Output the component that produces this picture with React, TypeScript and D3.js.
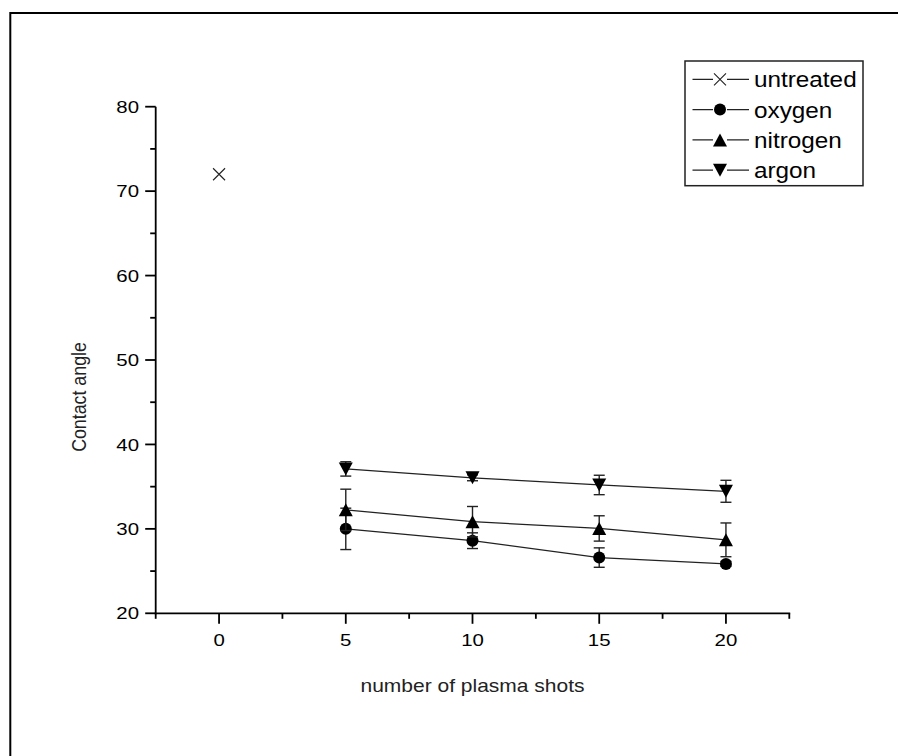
import React from "react";
import * as d3 from "d3";

const xTicks = [0, 5, 10, 15, 20];
const yTicks = [20, 30, 40, 50, 60, 70, 80];
const shots = [5, 10, 15, 20];
const untreatedX = [0];
const untreatedY = [72];
const oxygenY = [30.0, 28.6, 26.6, 25.85];
const oxygenErr = [2.45, 0.93, 1.15, 0.3];
const nitrogenY = [32.25, 30.85, 30.05, 28.7];
const nitrogenErr = [2.45, 1.8, 1.5, 2.0];
const argonY = [37.1, 36.05, 35.2, 34.45];
const argonErr = [0.85, 0.35, 1.15, 1.3];
const legendLabels = ["untreated", "oxygen", "nitrogen", "argon"];

const FONT = "'Liberation Sans', Arial, sans-serif";
const SX = 1.18;

const x = d3.scaleLinear().domain([-2.5, 22.5]).range([155.7, 789.3]);
const y = d3.scaleLinear().domain([20, 80]).range([613.3, 106.7]);

type Shape = "x" | "circle" | "up" | "down";

function Marker({ cx, cy, shape, s = 1 }: { cx: number; cy: number; shape: Shape; s?: number }) {
  if (shape === "x") {
    const h = 6 * s;
    return (
      <path
        d={`M${cx - h},${cy - h}L${cx + h},${cy + h}M${cx - h},${cy + h}L${cx + h},${cy - h}`}
        stroke="#222"
        strokeWidth={1.1}
        fill="none"
      />
    );
  }
  if (shape === "circle") return <circle cx={cx} cy={cy} r={6 * s} fill="#000" />;
  const w = 7 * s;
  const h = 6.5 * s;
  if (shape === "up")
    return <path d={`M${cx},${cy - h}L${cx + w},${cy + h}L${cx - w},${cy + h}Z`} fill="#000" />;
  return <path d={`M${cx - w},${cy - h}L${cx + w},${cy - h}L${cx},${cy + h}Z`} fill="#000" />;
}

function Series({ ys, errs, shape }: { ys: number[]; errs: number[]; shape: Shape }) {
  const line = d3
    .line<number>()
    .x((_, i) => x(shots[i]))
    .y((d) => y(d));
  return (
    <g>
      <path d={line(ys) || ""} stroke="#222" strokeWidth={1.2} fill="none" />
      {ys.map((v, i) => {
        const cx = x(shots[i]);
        const t = y(v + errs[i]);
        const b = y(v - errs[i]);
        return (
          <g key={i} stroke="#222" strokeWidth={1.4}>
            <line x1={cx} x2={cx} y1={t} y2={b} />
            <line x1={cx - 5.5} x2={cx + 5.5} y1={t} y2={t} />
            <line x1={cx - 5.5} x2={cx + 5.5} y1={b} y2={b} />
          </g>
        );
      })}
      {ys.map((v, i) => (
        <Marker key={"m" + i} cx={x(shots[i])} cy={y(v)} shape={shape} />
      ))}
    </g>
  );
}

function SText({
  tx,
  ty,
  anchor,
  size,
  children,
  fill = "#000",
  sx = SX,
}: {
  tx: number;
  ty: number;
  anchor: string;
  size: number;
  children: React.ReactNode;
  fill?: string;
  sx?: number;
}) {
  return (
    <text
      transform={`translate(${tx},${ty}) scale(${sx},1)`}
      textAnchor={anchor}
      fontSize={size}
      fontFamily={FONT}
      fill={fill}
    >
      {children}
    </text>
  );
}

export default function App() {
  const xMinor = d3.range(-2.5, 23, 5);
  const yMinor = d3.range(25, 80, 10);
  const [x0, x1] = x.range();
  const [y0, y1] = y.range();
  const shapes: Shape[] = ["x", "circle", "up", "down"];
  const legendRowY = (i: number) => 79.3 + i * 30.3;
  return (
    <svg
      width={898}
      height={756}
      style={{ position: "fixed", left: 0, top: 0, background: "#fff" }}
    >
      <rect x={0} y={0} width={898} height={756} fill="#fff" />
      <rect x={10.3} y={13} width={1000} height={1000} fill="none" stroke="#000" strokeWidth={2} />

      {/* axes */}
      <g stroke="#000" strokeWidth={1.8}>
        <line x1={x0 - 0.9} x2={x1 + 0.9} y1={y0} y2={y0} />
        <line x1={x0} x2={x0} y1={y0 + 0.9} y2={y1} />
        {xTicks.map((t) => (
          <line key={"xt" + t} x1={x(t)} x2={x(t)} y1={y0} y2={y0 + 10.5} />
        ))}
        {xMinor.map((t) => (
          <line key={"xm" + t} x1={x(t)} x2={x(t)} y1={y0} y2={y0 + 5.5} />
        ))}
        {yTicks.map((t) => (
          <line key={"yt" + t} x1={x0 - 10.5} x2={x0} y1={y(t)} y2={y(t)} />
        ))}
        {yMinor.map((t) => (
          <line key={"ym" + t} x1={x0 - 5.5} x2={x0} y1={y(t)} y2={y(t)} />
        ))}
      </g>
      {xTicks.map((t) => (
        <SText key={"xl" + t} tx={x(t)} ty={646} anchor="middle" size={17.3}>
          {t}
        </SText>
      ))}
      {yTicks.map((t) => (
        <SText key={"yl" + t} tx={139} ty={y(t) + 6.1} anchor="end" size={17.3}>
          {t}
        </SText>
      ))}
      <SText tx={(x0 + x1) / 2} ty={691.7} anchor="middle" size={17.8} fill="#222">
        number of plasma shots
      </SText>
      <text
        transform={`translate(85.5,397) scale(${SX},1) rotate(-90)`}
        textAnchor="middle"
        fontSize={17.8}
        fontFamily={FONT}
        fill="#222"
      >
        Contact angle
      </text>

      {/* data */}
      {untreatedX.map((v, i) => (
        <Marker key={"u" + i} cx={x(v)} cy={y(untreatedY[i])} shape="x" />
      ))}
      <Series ys={oxygenY} errs={oxygenErr} shape="circle" />
      <Series ys={nitrogenY} errs={nitrogenErr} shape="up" />
      <Series ys={argonY} errs={argonErr} shape="down" />

      {/* legend */}
      <rect x={685} y={61} width={178} height={124.7} fill="#fff" stroke="#222" strokeWidth={1.5} />
      {legendLabels.map((lab, i) => {
        const cy = legendRowY(i);
        return (
          <g key={lab}>
            <line x1={692.5} x2={749} y1={cy} y2={cy} stroke="#222" strokeWidth={1.2} />
            <rect x={713} y={cy - 7.5} width={14} height={15} fill="#fff" />
            <Marker cx={720} cy={cy} shape={shapes[i]} />
            <SText tx={754} ty={cy + 8} anchor="start" size={22.5} sx={1.08}>
              {lab}
            </SText>
          </g>
        );
      })}
    </svg>
  );
}
